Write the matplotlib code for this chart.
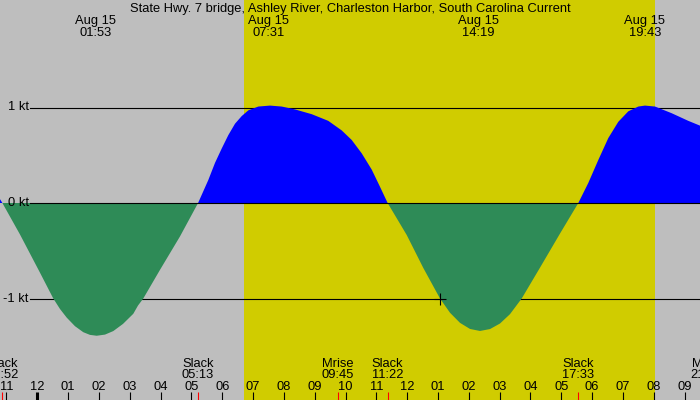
import numpy as np
import matplotlib
matplotlib.use("Agg")
from matplotlib import pyplot as plt
from matplotlib.transforms import blended_transform_factory

# current speed in knots, hours since midnight Aug 15
hours = np.array([-1.21, -1.133, -0.561, 0.088, 0.519, 0.737, 0.954, 1.223, 1.493, 1.71, 1.927,
                  2.197, 2.466, 2.781, 3.115, 3.267, 3.439, 3.981, 4.630, 5.217,
                  5.548, 5.766, 5.983, 6.197, 6.415, 6.632, 6.846, 7.171, 7.551,
                  7.930, 8.362, 8.903, 9.442, 9.877, 10.201, 10.526, 10.850, 11.119, 11.367,
                  11.986, 12.524, 13.066, 13.39, 13.715, 14.04, 14.364, 14.689, 15.013, 15.337,
                  15.717, 16.311, 16.96, 17.554,
                  17.878, 18.202, 18.527, 18.851, 19.176, 19.500, 19.717, 20.042, 20.584,
                  21.123, 21.502])
knots = np.array([0.04, 0.0, -0.33, -0.73, -1.00, -1.11, -1.20, -1.29, -1.353, -1.381, -1.39,
                  -1.378, -1.341, -1.266, -1.16, -1.074, -1.00, -0.70, -0.35, 0.0,
                  0.24, 0.42, 0.57, 0.71, 0.83, 0.91, 0.97, 1.01, 1.02,
                  1.01, 0.98, 0.93, 0.86, 0.76, 0.66, 0.52, 0.35, 0.17, 0.0,
                  -0.335, -0.68, -1.00, -1.149, -1.255, -1.319, -1.34, -1.32, -1.262, -1.164,
                  -1.00, -0.677, -0.32, 0.0,
                  0.21, 0.45, 0.68, 0.85, 0.96, 1.01, 1.02, 1.01, 0.94,
                  0.86, 0.81])

sunrise = 6.707
sunset = 20.04

peak_times = [1.883, 7.517, 14.317, 19.717]
peak_labels = ["01:53", "07:31", "14:19", "19:43"]

event_times = [-1.133, 5.217, 9.75, 11.367, 17.55, 21.70]
event_names = ["Slack", "Slack", "Mrise", "Slack", "Slack", "Mset"]
event_labels = ["22:52", "05:13", "09:45", "11:22", "17:33", "21:42"]

levels = [1, 0, -1]
now_mark = (13.05, -1.0)

title = "State Hwy. 7 bridge, Ashley River, Charleston Harbor, South Carolina Current"

plt.rcParams["font.family"] = ["Liberation Sans", "DejaVu Sans"]

W, H = 700, 400
fig = plt.figure(figsize=(W / 100, H / 100), dpi=100)
ax = fig.add_axes([0, 0, 1, 1])
ax.set_xlim(-1.21, 21.502)
ax.set_ylim((203 - 400) / 95.5, 203 / 95.5)
ax.axis("off")
fig.patch.set_facecolor("#bebebe")

FS = 9.3
trans = blended_transform_factory(ax.transData, fig.transFigure)


def yp(p):
    # pixel row -> figure fraction
    return 1 - p / H


ax.axvspan(sunrise, sunset, color="#d0cc00", lw=0, zorder=0)

for lv in levels:
    ax.axhline(lv, xmin=30 / W, color="black", lw=0.8, zorder=1 if lv else 4)
    ax.text(28.5 / W, lv, f"{lv} kt", transform=ax.get_yaxis_transform(),
            ha="right", va="center", fontsize=FS, zorder=5)

ax.fill_between(hours, knots, 0, where=knots >= 0, interpolate=True,
                color="#0000ff", lw=0, zorder=2)
ax.fill_between(hours, knots, 0, where=knots <= 0, interpolate=True,
                color="#2e8b57", lw=0, zorder=2)

ax.plot(*now_mark, marker="+", color="black", ms=9, mew=0.8, zorder=5)

fig.text(0.5, yp(11.7), title, ha="center", va="baseline", fontsize=FS)
for t, lab in zip(peak_times, peak_labels):
    ax.text(t, yp(24), "Aug 15", transform=trans, ha="center", va="baseline", fontsize=FS)
    ax.text(t, yp(36), lab, transform=trans, ha="center", va="baseline", fontsize=FS)

for h in range(-1, 22):
    lab = f"{(h % 12) or 12:02d}"
    ax.text(h, yp(390), lab, transform=trans, ha="center", va="baseline", fontsize=FS)
    ax.plot([h, h], [yp(391.5), yp(400)], transform=trans, color="black",
            lw=2.2 if h == 0 else 0.8, solid_capstyle="butt", zorder=5)

for t, name, lab in zip(event_times, event_names, event_labels):
    ax.text(t, yp(366.7), name, transform=trans, ha="center", va="baseline", fontsize=FS)
    ax.text(t, yp(377.7), lab, transform=trans, ha="center", va="baseline", fontsize=FS)
    ax.plot([t, t], [yp(391.5), yp(400)], transform=trans, color="red",
            lw=0.8, solid_capstyle="butt", zorder=5)

fig.savefig("out.png", dpi=100, facecolor=fig.get_facecolor())
